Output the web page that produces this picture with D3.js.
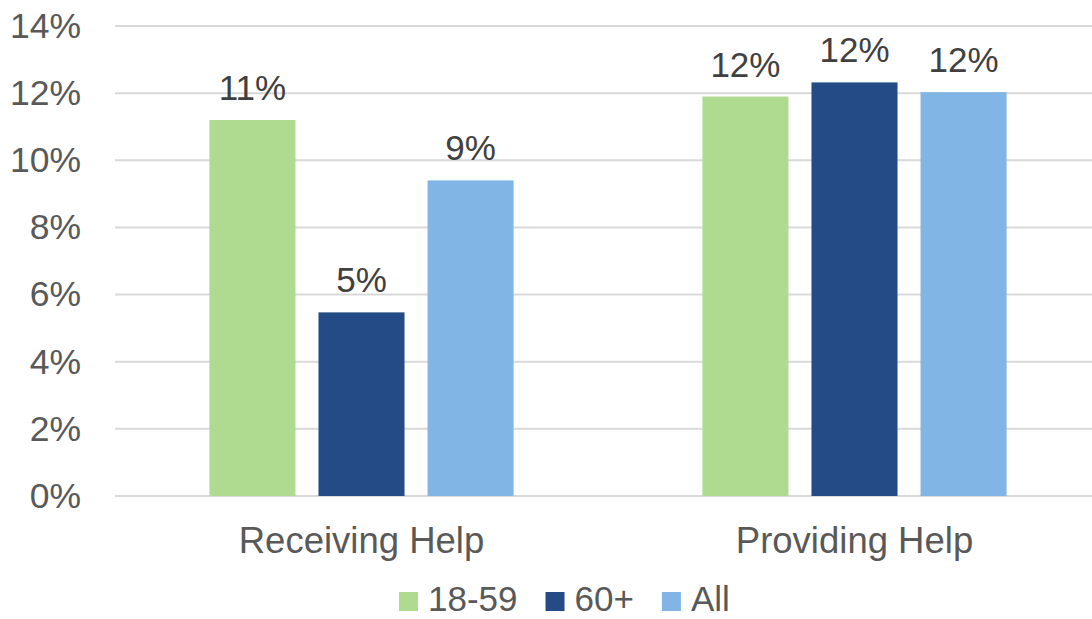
<!DOCTYPE html>
<html>
<head>
<meta charset="utf-8">
<script src="https://cdn.jsdelivr.net/npm/d3@7"></script>
<style>
  html, body { margin: 0; padding: 0; background: #ffffff; }
  svg { display: block; font-family: "Liberation Sans", Arial, sans-serif; }
</style>
</head>
<body>
<svg id="chart" width="1092" height="619"></svg>
<script>
// Share of respondents receiving / providing help, by age group (%)
const categories = ["Receiving Help", "Providing Help"];
const seriesNames = ["18-59", "60+", "All"];
const values1859 = [11.2, 11.9];
const values60plus = [5.47, 12.32];
const valuesAll = [9.4, 12.03];
const yTicks = [0, 2, 4, 6, 8, 10, 12, 14];
const colors = ["#AEDB8F", "#244B85", "#80B5E6"];

const seriesValues = [values1859, values60plus, valuesAll];

const svg = d3.select("#chart");
const margin = { left: 115, right: 1101, top: 26, bottom: 496 };

const y = d3.scaleLinear().domain([0, 14]).range([margin.bottom, margin.top]);

const x0 = d3.scaleBand()
  .domain(categories)
  .range([margin.left, margin.right])
  .paddingInner(0.383)
  .paddingOuter(0.1915);

const x1 = d3.scaleBand()
  .domain(seriesNames)
  .range([0, x0.bandwidth()])
  .paddingInner(0.211)
  .paddingOuter(0);

const color = d3.scaleOrdinal().domain(seriesNames).range(colors);

// Horizontal gridlines
svg.append("g")
  .selectAll("line")
  .data(yTicks)
  .join("line")
  .attr("x1", margin.left)
  .attr("x2", margin.right)
  .attr("y1", d => y(d))
  .attr("y2", d => y(d))
  .attr("stroke", "#d9d9d9")
  .attr("stroke-width", 2);

// Y axis tick labels
const yAxis = d3.axisLeft(y)
  .tickValues(yTicks)
  .tickFormat(d => d + "%")
  .tickSize(0)
  .tickPadding(34);
const yg = svg.append("g")
  .attr("transform", `translate(${margin.left},0)`)
  .call(yAxis);
yg.select(".domain").remove();
yg.selectAll("text")
  .attr("fill", "#595959")
  .style("font-size", "35.5px")
  .style("font-family", "'Liberation Sans', Arial, sans-serif");

// Bars
const rows = categories.map((c, i) => ({
  category: c,
  items: seriesNames.map((s, k) => ({ series: s, value: seriesValues[k][i] }))
}));

const groups = svg.append("g")
  .selectAll("g")
  .data(rows)
  .join("g")
  .attr("transform", d => `translate(${x0(d.category)},0)`);

groups.selectAll("rect")
  .data(d => d.items)
  .join("rect")
  .attr("x", d => x1(d.series))
  .attr("y", d => y(d.value))
  .attr("width", x1.bandwidth())
  .attr("height", d => y(0) - y(d.value))
  .attr("fill", d => color(d.series));

// Value labels above bars
groups.selectAll("text")
  .data(d => d.items)
  .join("text")
  .attr("x", d => x1(d.series) + x1.bandwidth() / 2)
  .attr("y", d => y(d.value) - 20)
  .attr("text-anchor", "middle")
  .attr("fill", "#404040")
  .style("font-size", "35px")
  .text(d => Math.round(d.value) + "%");

// Category axis labels
const xAxis = d3.axisBottom(x0).tickSize(0).tickPadding(31);
const xg = svg.append("g")
  .attr("transform", `translate(0,${margin.bottom})`)
  .call(xAxis);
xg.select(".domain").remove();
xg.selectAll("text")
  .attr("fill", "#595959")
  .style("font-size", "36.5px")
  .style("font-family", "'Liberation Sans', Arial, sans-serif");

// Legend
const legend = svg.append("g").attr("transform", "translate(399,592)");
let lx = 0;
seriesNames.forEach((s) => {
  const item = legend.append("g").attr("transform", `translate(${lx},0)`);
  item.append("rect")
    .attr("width", 19)
    .attr("height", 19)
    .attr("fill", color(s));
  const t = item.append("text")
    .attr("x", 29)
    .attr("y", 19)
    .attr("fill", "#595959")
    .style("font-size", "35px")
    .text(s);
  lx += 29 + t.node().getComputedTextLength() + 28;
});
</script>
</body>
</html>
